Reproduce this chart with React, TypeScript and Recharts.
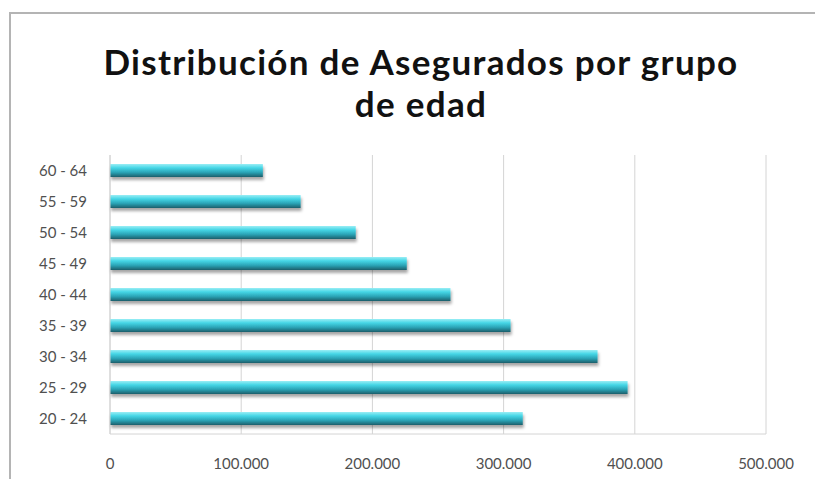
import { BarChart, Bar, XAxis, YAxis, CartesianGrid } from 'recharts';

const grupos = ['20 - 24', '25 - 29', '30 - 34', '35 - 39', '40 - 44', '45 - 49', '50 - 54', '55 - 59', '60 - 64'];
const asegurados = [314600, 394500, 371600, 305300, 259500, 226200, 187300, 145300, 116500];
const ticksX = [0, 100000, 200000, 300000, 400000, 500000];

const data = grupos.map((g, i) => ({ grupo: g, asegurados: asegurados[i] }));

const fmt = (v: number) => (v === 0 ? '0' : v.toLocaleString('de-DE'));

const fuente = 'Lato, "Open Sans", "DejaVu Sans", sans-serif';

const tituloStyle = {
    position: 'absolute' as const,
    left: 0,
    width: 842,
    textAlign: 'center' as const,
    fontFamily: 'Lato, sans-serif',
    fontWeight: 700,
    fontSize: 35,
    lineHeight: '42px',
    color: '#111',
    letterSpacing: 1.3,
};

export default function App() {
    return (
        <div style={{ position: 'relative', width: 815, height: 479, overflow: 'hidden', background: '#fff' }}>
            <style>{'html, body { margin: 0; padding: 0; overflow: hidden; }'}</style>
            <div style={{ position: 'absolute', left: 9, top: 12, width: 806, height: 467, borderTop: '2px solid #b4b4b4', borderLeft: '2px solid #b4b4b4', boxSizing: 'border-box' }} />
            <div style={{ ...tituloStyle, top: 40 }}>Distribución de Asegurados por grupo</div>
            <div style={{ ...tituloStyle, top: 82 }}>de edad</div>
            <div style={{ position: 'absolute', left: 0, top: 0 }}>
                <BarChart width={815} height={479} data={data} layout="vertical" margin={{ top: 155, right: 49, left: 10, bottom: 15 }} barCategoryGap={18}>
                    <defs>
                        <linearGradient id="gradBar" x1="0" y1="0" x2="0" y2="1">
                            <stop offset="0%" stopColor="#9aeef5" />
                            <stop offset="30%" stopColor="#45d6e6" />
                            <stop offset="65%" stopColor="#2aa3b5" />
                            <stop offset="100%" stopColor="#1b5e6b" />
                        </linearGradient>
                        <filter id="sombra" x="-5%" y="-50%" width="110%" height="200%">
                            <feDropShadow dx="1" dy="3" stdDeviation="1.5" floodColor="#000" floodOpacity="0.35" />
                        </filter>
                    </defs>
                    <CartesianGrid horizontal={false} stroke="#d4d4d4" />
                    <XAxis
                        type="number"
                        domain={[0, 500000]}
                        ticks={ticksX}
                        tickFormatter={fmt}
                        axisLine={{ stroke: '#d4d4d4' }}
                        tickLine={false}
                        tick={{ fill: '#505050', fontSize: 15, fontFamily: fuente }}
                        tickMargin={18}
                        height={30}
                    />
                    <YAxis
                        type="category"
                        dataKey="grupo"
                        reversed
                        width={100}
                        axisLine={{ stroke: '#d4d4d4' }}
                        tickLine={false}
                        tick={{ fill: '#505050', fontSize: 15, fontFamily: fuente }}
                        tickMargin={17}
                    />
                    <Bar dataKey="asegurados" fill="url(#gradBar)" filter="url(#sombra)" barSize={13} isAnimationActive={false} />
                </BarChart>
            </div>
        </div>
    );
}
